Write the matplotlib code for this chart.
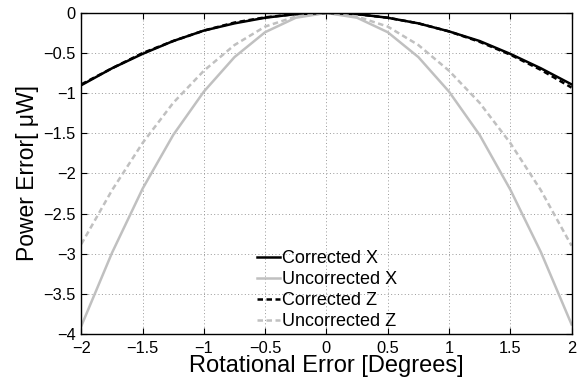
import matplotlib
matplotlib.use('Agg')
import matplotlib.pyplot as plt
import numpy as np

plt.rcParams['font.family'] = ['Liberation Sans', 'DejaVu Sans']

# rotational error in degrees
angle = [-2, -1.75, -1.5, -1.25, -1, -0.75, -0.5, -0.25, 0,
         0.25, 0.5, 0.75, 1, 1.25, 1.5, 1.75, 2]

corrected_x = [-0.90, -0.69, -0.51, -0.35, -0.22, -0.13, -0.06, -0.015, 0,
               -0.015, -0.06, -0.13, -0.23, -0.35, -0.51, -0.69, -0.89]
uncorrected_x = [-3.90, -2.99, -2.19, -1.52, -0.98, -0.55, -0.24, -0.06, 0,
                 -0.06, -0.24, -0.55, -0.98, -1.52, -2.20, -2.98, -3.88]
corrected_z = [-0.89, -0.69, -0.50, -0.35, -0.22, -0.12, -0.055, -0.014, 0,
               -0.015, -0.06, -0.13, -0.23, -0.36, -0.52, -0.71, -0.93]
uncorrected_z = [-2.88, -2.21, -1.62, -1.12, -0.72, -0.40, -0.17, -0.045, 0,
                 -0.045, -0.17, -0.40, -0.72, -1.12, -1.62, -2.21, -2.90]

xticks = [-2, -1.5, -1, -0.5, 0, 0.5, 1, 1.5, 2]
yticks = [0, -0.5, -1, -1.5, -2, -2.5, -3, -3.5, -4]

grey = '#c0c0c0'

fig = plt.figure(figsize=(5.85, 3.8), dpi=100)
ax = fig.add_axes([0.139, 0.121, 0.838, 0.845])

ax.plot(angle, corrected_x, color='black', lw=1.8, label='Corrected X')
ax.plot(angle, uncorrected_x, color=grey, lw=1.8, label='Uncorrected X')
ax.plot(angle, corrected_z, color='black', lw=1.8, ls=(0, (2.2, 1.4)), label='Corrected Z')
ax.plot(angle, uncorrected_z, color=grey, lw=1.8, ls=(0, (2.2, 1.4)), label='Uncorrected Z')

ax.set_xlim(-2, 2)
ax.set_ylim(-4, 0)
ax.set_xticks(xticks)
ax.set_yticks(yticks)
ax.set_xticklabels([f'{t:g}'.replace('-', '\u2212') for t in xticks])
ax.set_yticklabels([f'{t:g}'.replace('-', '\u2212') for t in yticks])
ax.tick_params(direction='in', length=4, width=0.8, top=True, right=True,
               labelsize=11.8)
ax.tick_params(axis='x', pad=5)
ax.tick_params(axis='y', pad=4)
ax.grid(True, ls=(0, (1, 2.5)), color='#999999', lw=0.7)
for s in ax.spines.values():
    s.set_linewidth(1.0)

ax.set_xlabel('Rotational Error [Degrees]', fontsize=17, labelpad=-1)
ax.set_ylabel('Power Error[ \u03bcW]', fontsize=16.5, labelpad=3)

ax.legend(loc='lower left', bbox_to_anchor=(0.358, 0.012), frameon=False,
          fontsize=13, handlelength=1.3, handletextpad=0.1, labelspacing=0.22,
          borderpad=0, borderaxespad=0)

fig.savefig('out.png', dpi=100)
